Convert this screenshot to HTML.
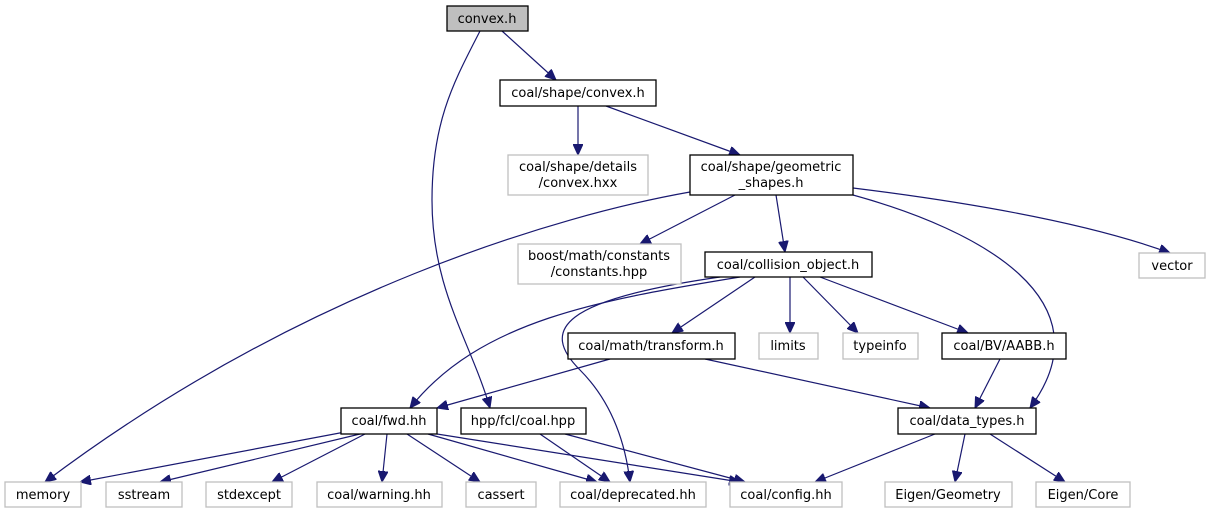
<!DOCTYPE html>
<html><head><meta charset="utf-8"><style>
html,body{margin:0;padding:0;background:#fff;}
svg{display:block;}
text{font-family:"DejaVu Sans","Liberation Sans",sans-serif;font-size:13px;fill:#000;text-anchor:middle;}
.b{fill:#fff;stroke:#000;stroke-width:1.3;}
.g{fill:#fff;stroke:#bfbfbf;stroke-width:1.3;}
.e{fill:none;stroke:#191970;stroke-width:1.2;}
</style></head><body>
<svg width="1210" height="515" viewBox="0 0 1210 515">
<defs><marker id="a" markerUnits="userSpaceOnUse" markerWidth="12" markerHeight="10" refX="11" refY="5" orient="auto"><path d="M0,0 L11,5 L0,10 z" fill="#191970" stroke="#191970"/></marker></defs>
<g class="e" marker-end="url(#a)">
<path d="M480,31 C455,80 432,120 432,200 C432,290 470,340 490,408"/>
<path d="M502,31 L556,80"/>
<path d="M578,106 L578,155"/>
<path d="M606,106 L740,155"/>
<path d="M690,192 C560,215 300,290 45,482"/>
<path d="M735,195 L640,244"/>
<path d="M776,195 L785,252"/>
<path d="M853,188 C950,200 1080,220 1170,253"/>
<path d="M853,195 C980,230 1110,300 1030,408"/>
<path d="M740,277 C600,300 480,320 410,408"/>
<path d="M720,277 C560,300 540,330 580,370 C610,400 625,440 630,482"/>
<path d="M755,277 L672,333"/>
<path d="M790,277 L790,333"/>
<path d="M803,277 L858,333"/>
<path d="M820,277 L968,333"/>
<path d="M610,359 L437,408"/>
<path d="M705,359 L930,408"/>
<path d="M1000,359 L975,408"/>
<path d="M345,432 L80,482"/>
<path d="M360,434 L160,482"/>
<path d="M365,434 L272,482"/>
<path d="M387,434 L382,482"/>
<path d="M407,434 L480,482"/>
<path d="M428,434 L597,482"/>
<path d="M437,434 L740,482"/>
<path d="M540,434 L610,482"/>
<path d="M565,434 L745,482"/>
<path d="M935,434 L815,482"/>
<path d="M965,434 L955,482"/>
<path d="M990,434 L1065,482"/>
</g>
<rect x="447" y="6" width="81" height="25" fill="#bfbfbf" stroke="#000" stroke-width="1.3"/><text x="487" y="23">convex.h</text>
<rect class="b" x="500" y="80" width="156" height="26"/><text x="578" y="97">coal/shape/convex.h</text>
<rect class="g" x="508" y="155" width="140" height="40"/><text x="578" y="171">coal/shape/details</text><text x="578" y="187">/convex.hxx</text>
<rect class="b" x="690" y="155" width="163" height="40"/><text x="771" y="171">coal/shape/geometric</text><text x="771" y="187">_shapes.h</text>
<rect class="g" x="518" y="244" width="163" height="40"/><text x="599" y="260">boost/math/constants</text><text x="599" y="276">/constants.hpp</text>
<rect class="b" x="705" y="252" width="167" height="25"/><text x="788" y="269">coal/collision_object.h</text>
<rect class="g" x="1139" y="253" width="66" height="25"/><text x="1172" y="270">vector</text>
<rect class="b" x="568" y="333" width="167" height="26"/><text x="651" y="350">coal/math/transform.h</text>
<rect class="g" x="759" y="333" width="59" height="26"/><text x="788" y="350">limits</text>
<rect class="g" x="843" y="333" width="75" height="26"/><text x="880" y="350">typeinfo</text>
<rect class="b" x="942" y="333" width="124" height="26"/><text x="1004" y="350">coal/BV/AABB.h</text>
<rect class="b" x="341" y="408" width="96" height="26"/><text x="389" y="425">coal/fwd.hh</text>
<rect class="b" x="461" y="408" width="125" height="26"/><text x="523" y="425">hpp/fcl/coal.hpp</text>
<rect class="b" x="898" y="408" width="138" height="26"/><text x="967" y="425">coal/data_types.h</text>
<rect class="g" x="5" y="482" width="76" height="25"/><text x="43" y="499">memory</text>
<rect class="g" x="106" y="482" width="76" height="25"/><text x="144" y="499">sstream</text>
<rect class="g" x="206" y="482" width="86" height="25"/><text x="249" y="499">stdexcept</text>
<rect class="g" x="317" y="482" width="125" height="25"/><text x="379" y="499">coal/warning.hh</text>
<rect class="g" x="466" y="482" width="70" height="25"/><text x="501" y="499">cassert</text>
<rect class="g" x="560" y="482" width="146" height="25"/><text x="633" y="499">coal/deprecated.hh</text>
<rect class="g" x="730" y="482" width="112" height="25"/><text x="786" y="499">coal/config.hh</text>
<rect class="g" x="885" y="482" width="127" height="25"/><text x="948" y="499">Eigen/Geometry</text>
<rect class="g" x="1036" y="482" width="94" height="25"/><text x="1083" y="499">Eigen/Core</text>
</svg>
</body></html>
